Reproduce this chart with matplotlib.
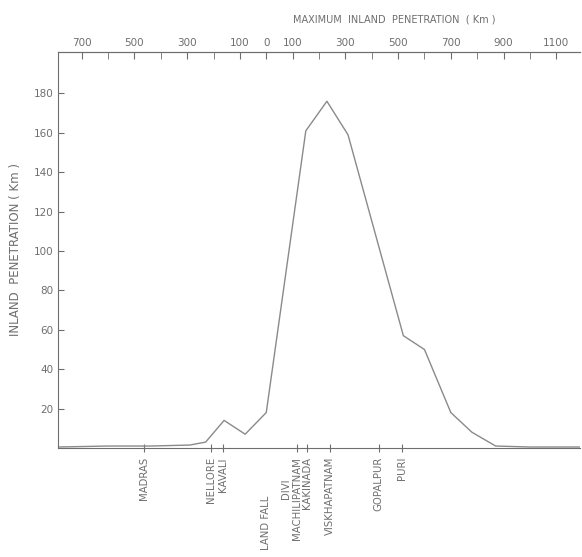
import matplotlib
matplotlib.use("Agg")
import matplotlib.pyplot as plt
from matplotlib.ticker import FixedLocator, NullFormatter

# ── Data ─────────────────────────────────────────────────────────────────────
# distance along the coast from landfall (km, negative = south)
dist_km = [-790, -600, -440, -290, -230, -160, -80, 0, 150, 230, 310,
           520, 600, 700, 780, 870, 1000, 1190]
penetration_km = [0.5, 1, 1, 1.5, 3, 14, 7, 18, 161, 176, 159,
                  57, 50, 18, 8, 1, 0.5, 0.5]

place_names = ["MADRAS", "NELLORE", "KAVALI", "LAND FALL", "DIVI",
               "MACHILIPATNAM", "KAKINADA", "VISKHAPATNAM", "GOPALPUR", "PURI"]
place_km = [-464, -210, -163, 0, 76, 116, 155, 240, 426, 513]
place_has_tick = [True, True, True, False, False, True, True, True, True, True]

y_ticks = [20, 40, 60, 80, 100, 120, 140, 160, 180]
top_major = [-700, -500, -300, -100, 0, 100, 300, 500, 700, 900, 1100]
top_major_labels = ["700", "500", "300", "100", "0", "100", "300", "500",
                    "700", "900", "1100"]
top_minor = [-600, -400, -200, 200, 400, 600, 800, 1000]

GREY = "#6e6e6e"
LINE = "#8a8a8a"

plt.rcParams["font.family"] = "DejaVu Sans"

fig = plt.figure(figsize=(5.82, 5.57), dpi=100)
ax = fig.add_axes([58 / 582, 109 / 557, 522 / 582, 396 / 557])

ax.plot(dist_km, penetration_km, color=LINE, linewidth=1.0)

ax.set_xlim(-790, 1190)
ax.set_ylim(0, 201)

ax.spines["right"].set_visible(False)
for side in ["left", "bottom", "top"]:
    ax.spines[side].set_color(GREY)
    ax.spines[side].set_linewidth(0.8)

# left axis
ax.set_yticks(y_ticks)
ax.set_yticklabels([str(v) for v in y_ticks])
ax.tick_params(axis="y", direction="in", length=4, color=GREY,
               labelcolor=GREY, labelsize=7.5, pad=3)
ax.set_ylabel("INLAND  PENETRATION ( Km )", color=GREY, fontsize=8.5,
              labelpad=9)

# bottom axis: place markers
tick_pos = [k for k, t in zip(place_km, place_has_tick) if t]
ax.set_xticks(tick_pos)
ax.xaxis.set_major_formatter(NullFormatter())
ax.tick_params(axis="x", direction="inout", length=6, color=GREY)

offsets = {"LAND FALL": 48, "DIVI": 30}
for name, km in zip(place_names, place_km):
    off = offsets.get(name, 9)
    ax.annotate(name, xy=(km, 0), xycoords="data",
                xytext=(0, -off * 0.72), textcoords="offset points",
                rotation=90, ha="center", va="top", fontsize=7.3,
                color=GREY)

# top axis: distance along coast
top = ax.twiny()
top.set_xlim(ax.get_xlim())
for side in ["right", "left", "bottom"]:
    top.spines[side].set_visible(False)
top.spines["top"].set_color(GREY)
top.spines["top"].set_linewidth(0.8)
top.set_xticks(top_major)
top.set_xticklabels(top_major_labels)
top.xaxis.set_minor_locator(FixedLocator(top_minor))
top.tick_params(axis="x", which="both", direction="in", length=5,
                color=GREY, labelcolor=GREY, labelsize=7.5, pad=3)
top.set_xlabel("MAXIMUM  INLAND  PENETRATION  ( Km )", color=GREY,
               fontsize=7, labelpad=8)
top.xaxis.set_label_coords(0.645, 1.075)

fig.savefig("out.png", dpi=100)
